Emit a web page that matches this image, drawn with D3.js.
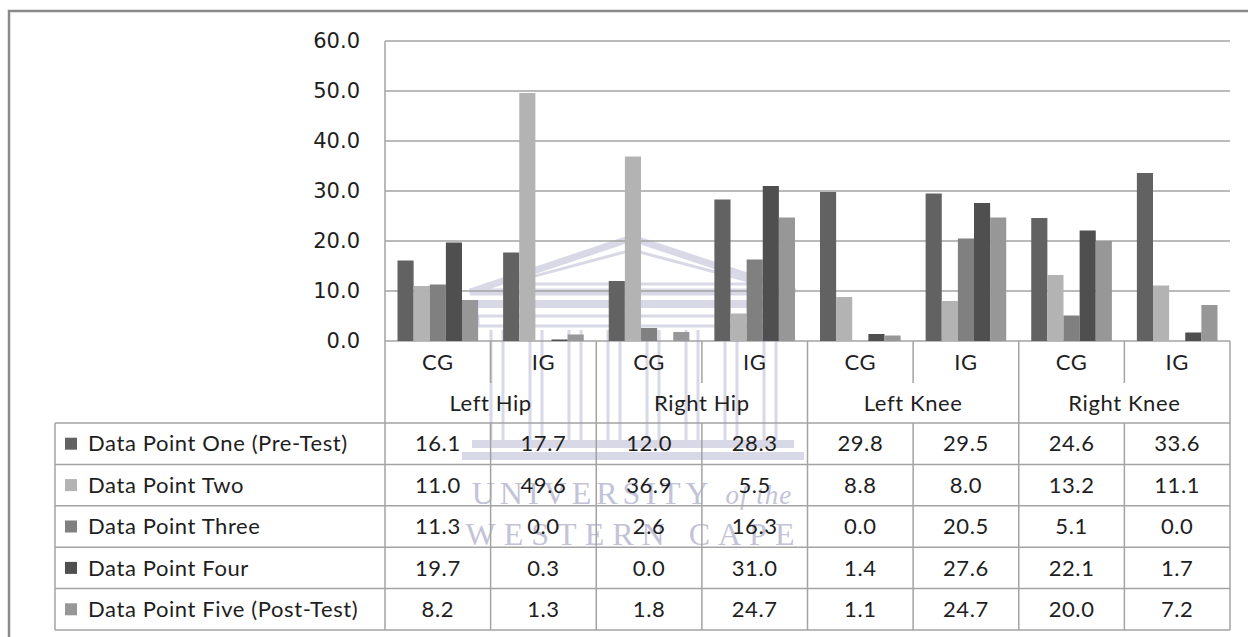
<!DOCTYPE html>
<html>
<head>
<meta charset="utf-8">
<script src="https://cdn.jsdelivr.net/npm/d3@7"></script>
<style>
  html, body { margin: 0; padding: 0; background: #fff; }
  svg { display: block; }
</style>
</head>
<body>
<svg id="chart" width="1248" height="637"></svg>
<script>
// ---- data ----
const joints = ["Left Hip", "Right Hip", "Left Knee", "Right Knee"];
const groups = ["CG", "IG"];
const seriesNames = [
  "Data Point One (Pre-Test)",
  "Data Point Two",
  "Data Point Three",
  "Data Point Four",
  "Data Point Five (Post-Test)"
];
// values in order: LH-CG, LH-IG, RH-CG, RH-IG, LK-CG, LK-IG, RK-CG, RK-IG
const dataPointOne   = [16.1, 17.7, 12.0, 28.3, 29.8, 29.5, 24.6, 33.6];
const dataPointTwo   = [11.0, 49.6, 36.9, 5.5, 8.8, 8.0, 13.2, 11.1];
const dataPointThree = [11.3, 0.0, 2.6, 16.3, 0.0, 20.5, 5.1, 0.0];
const dataPointFour  = [19.7, 0.3, 0.0, 31.0, 1.4, 27.6, 22.1, 1.7];
const dataPointFive  = [8.2, 1.3, 1.8, 24.7, 1.1, 24.7, 20.0, 7.2];
const seriesValues = [dataPointOne, dataPointTwo, dataPointThree, dataPointFour, dataPointFive];
const yTicks = [0, 10, 20, 30, 40, 50, 60];

// ---- styling ----
const colors = ["#626262", "#b3b3b3", "#808080", "#4f4f4f", "#979797"];
const lineColor = "#a3a3a3";
const textColor = "#1e1e1e";
const tableFont = "Lato, 'Open Sans', sans-serif";
const tickFont = "'DejaVu Sans', sans-serif";

const svg = d3.select("#chart");
svg.append("rect").attr("width", 1248).attr("height", 637).attr("fill", "#fff");

// frame
svg.append("path").attr("d", "M9,637V11H1248").attr("fill", "none")
  .attr("stroke", "#8a8a8a").attr("stroke-width", 2.5);

const plotL = 385, plotR = 1230, plotT = 41, plotB = 341;
const tableL = 55;
const headerRow1 = 383, tableTop = 423, rowH = 41.4;
const tableBottom = tableTop + rowH * seriesNames.length;

const cats = [];
joints.forEach(j => groups.forEach(g => cats.push(j + "|" + g)));

const x = d3.scaleBand().domain(cats).range([plotL, plotR]).padding(0);
const bw = x.bandwidth();
const x1 = d3.scaleBand().domain(d3.range(seriesNames.length)).range([12.5, bw - 12.5]).padding(0);
const y = d3.scaleLinear().domain([0, 60]).range([plotB, plotT]);

// watermark (document background, behind the chart)
const wmColor = "#cfcfe2";
const wmB = svg.append("g").attr("fill", "none").attr("stroke", wmColor).attr("opacity", 0.8);
wmB.append("path").attr("d", "M470,292L632,238L795,292Z").attr("stroke-width", 7);
wmB.append("path").attr("d", "M505,284L632,250L760,284Z").attr("stroke-width", 3);
wmB.append("rect").attr("x", 478).attr("y", 300).attr("width", 310).attr("height", 8).attr("fill", wmColor).attr("stroke", "none");
wmB.append("rect").attr("x", 478).attr("y", 316).attr("width", 310).attr("height", 10).attr("fill", "none").attr("stroke-width", 3);
d3.range(8).forEach(k => {
  const cx = 497 + k * 39;
  wmB.append("line").attr("x1", cx - 6).attr("x2", cx - 6).attr("y1", 330).attr("y2", 440).attr("stroke-width", 3);
  wmB.append("line").attr("x1", cx + 6).attr("x2", cx + 6).attr("y1", 330).attr("y2", 440).attr("stroke-width", 3);
});
wmB.append("rect").attr("x", 472).attr("y", 440).attr("width", 322).attr("height", 8).attr("fill", wmColor).attr("stroke", "none");
wmB.append("rect").attr("x", 462).attr("y", 452).attr("width", 342).attr("height", 8).attr("fill", wmColor).attr("stroke", "none");

const wm = svg.append("g").attr("fill", "#c3c3d8")
  .attr("font-family", "'Liberation Serif', 'DejaVu Serif', serif");
wm.append("text").attr("x", 632).attr("y", 504).attr("text-anchor", "middle")
  .attr("font-size", 32).attr("letter-spacing", 5)
  .html("UNIVERSITY <tspan font-style='italic' font-size='27' letter-spacing='1'>of the</tspan>");
wm.append("text").attr("x", 634).attr("y", 545).attr("text-anchor", "middle")
  .attr("font-size", 32).attr("letter-spacing", 8).text("WESTERN CAPE");

// gridlines
svg.append("g").selectAll("line").data(yTicks).join("line")
  .attr("x1", plotL).attr("x2", plotR)
  .attr("y1", d => y(d)).attr("y2", d => y(d))
  .attr("stroke", lineColor).attr("stroke-width", 1.5);

// y tick labels
svg.append("g").selectAll("text").data(yTicks).join("text")
  .attr("x", 360).attr("y", d => y(d)).attr("dy", "0.35em")
  .attr("text-anchor", "end").attr("font-family", tickFont).attr("font-size", 21)
  .attr("fill", textColor).text(d => d3.format(".1f")(d));

// bars
const barG = svg.append("g");
seriesValues.forEach((vals, si) => {
  barG.append("g").attr("fill", colors[si]).selectAll("rect").data(vals).join("rect")
    .attr("x", (d, i) => x(cats[i]) + x1(si))
    .attr("width", x1.bandwidth())
    .attr("y", d => y(d))
    .attr("height", d => y(0) - y(d));
});

// left axis line (extends through table)
svg.append("line").attr("x1", plotL).attr("x2", plotL).attr("y1", plotT).attr("y2", tableBottom)
  .attr("stroke", lineColor).attr("stroke-width", 1.5);

// header separators
const lines = svg.append("g").attr("stroke", lineColor).attr("stroke-width", 1.5);
cats.forEach((c, i) => {
  const xr = x(c) + bw;
  const isGroupEnd = (i % 2 === 1);
  lines.append("line").attr("x1", xr).attr("x2", xr)
    .attr("y1", plotB).attr("y2", isGroupEnd ? tableBottom : headerRow1);
  if (!isGroupEnd) {
    lines.append("line").attr("x1", xr).attr("x2", xr).attr("y1", tableTop).attr("y2", tableBottom);
  }
});
// horizontal table lines
d3.range(seriesNames.length + 1).forEach(r => {
  const yy = tableTop + r * rowH;
  lines.append("line").attr("x1", tableL).attr("x2", plotR).attr("y1", yy).attr("y2", yy);
});
lines.append("line").attr("x1", tableL).attr("x2", tableL).attr("y1", tableTop).attr("y2", tableBottom);

// header texts
const txt = svg.append("g").attr("font-family", tableFont).attr("font-size", 22)
  .attr("letter-spacing", 0.6).attr("fill", textColor);
txt.selectAll("text.g").data(cats).join("text").attr("class", "g")
  .attr("x", d => x(d) + bw / 2).attr("y", (plotB + headerRow1) / 2).attr("dy", "0.35em")
  .attr("text-anchor", "middle").text(d => d.split("|")[1]);
txt.selectAll("text.j").data(joints).join("text").attr("class", "j")
  .attr("x", (d, i) => x(cats[i * 2]) + bw).attr("y", (headerRow1 + tableTop) / 2).attr("dy", "0.35em")
  .attr("text-anchor", "middle").text(d => d);

// table rows
seriesNames.forEach((name, si) => {
  const cy = tableTop + si * rowH + rowH / 2;
  svg.append("rect").attr("x", 65).attr("y", cy - 6).attr("width", 12).attr("height", 12)
    .attr("fill", colors[si]);
  txt.append("text").attr("x", 88).attr("y", cy).attr("dy", "0.35em").text(name);
  txt.append("g").selectAll("text").data(seriesValues[si]).join("text")
    .attr("x", (d, i) => x(cats[i]) + bw / 2).attr("y", cy).attr("dy", "0.35em")
    .attr("text-anchor", "middle").text(d => d3.format(".1f")(d));
});
</script>
</body>
</html>
